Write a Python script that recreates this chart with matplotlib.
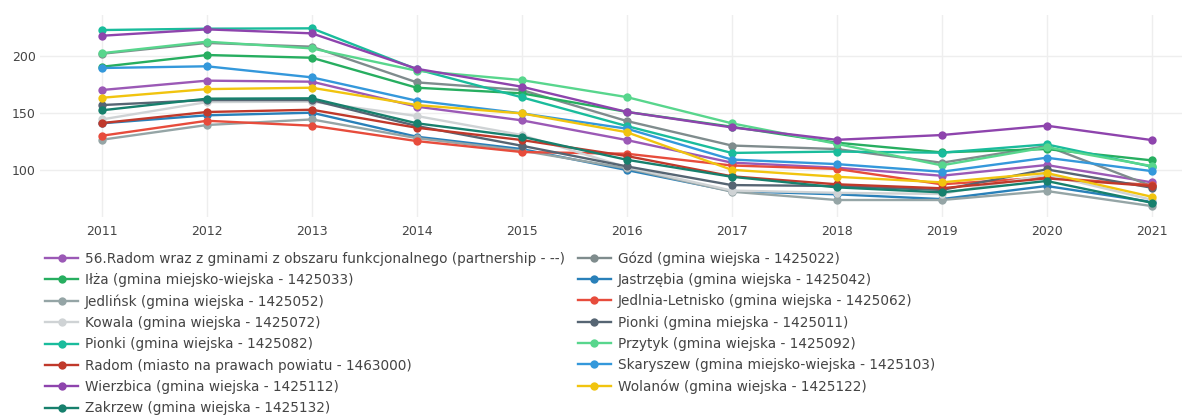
import matplotlib
matplotlib.use("Agg")
import matplotlib.pyplot as plt

years = [2011, 2012, 2013, 2014, 2015, 2016, 2017, 2018, 2019, 2020, 2021]

names = [
    "56.Radom wraz z gminami z obszaru funkcjonalnego (partnership - --)",
    "Gózd (gmina wiejska - 1425022)",
    "Iłża (gmina miejsko-wiejska - 1425033)",
    "Jastrzębia (gmina wiejska - 1425042)",
    "Jedlińsk (gmina wiejska - 1425052)",
    "Jedlnia-Letnisko (gmina wiejska - 1425062)",
    "Kowala (gmina wiejska - 1425072)",
    "Pionki (gmina miejska - 1425011)",
    "Pionki (gmina wiejska - 1425082)",
    "Przytyk (gmina wiejska - 1425092)",
    "Radom (miasto na prawach powiatu - 1463000)",
    "Skaryszew (gmina miejsko-wiejska - 1425103)",
    "Wierzbica (gmina wiejska - 1425112)",
    "Wolanów (gmina wiejska - 1425122)",
    "Zakrzew (gmina wiejska - 1425132)",
]

radom_fa = [170.2, 178.4, 177.5, 155.6, 143.6, 126.3, 106.5, 102.0, 95.0, 104.4, 89.2]
gozd = [202.0, 211.5, 208.2, 176.9, 170.2, 143.0, 121.5, 118.4, 106.4, 121.0, 86.0]
ilza = [190.6, 200.9, 198.5, 172.2, 167.3, 151.0, 138.0, 124.0, 115.5, 118.4, 108.5]
jastrzebia = [141.0, 148.0, 150.3, 129.2, 118.4, 100.0, 81.5, 78.7, 74.5, 86.0, 72.0]
jedlinsk = [126.6, 139.5, 144.4, 128.0, 117.0, 101.5, 81.0, 73.7, 73.7, 81.6, 68.4]
jedlnia = [130.1, 143.2, 138.9, 125.4, 115.8, 114.3, 104.0, 101.0, 87.5, 93.5, 86.8]
kowala = [144.4, 159.6, 160.0, 147.4, 130.7, 102.5, 82.0, 80.0, 79.0, 96.0, 74.0]
pionki_m = [157.0, 161.4, 161.4, 138.6, 121.3, 103.2, 86.8, 86.0, 82.5, 100.6, 84.5]
pionki_w = [222.8, 224.0, 224.3, 188.4, 163.8, 138.6, 115.0, 116.2, 115.2, 122.5, 103.0]
przytyk = [202.5, 212.6, 206.7, 187.1, 178.9, 164.0, 141.0, 123.0, 104.1, 120.0, 103.5]
radom = [141.2, 150.9, 152.9, 137.1, 126.3, 112.3, 94.5, 87.5, 84.0, 92.7, 86.0]
skaryszew = [189.5, 191.0, 181.3, 160.8, 149.7, 136.3, 109.2, 105.2, 98.5, 110.8, 99.1]
wierzbica = [217.8, 223.4, 219.9, 188.8, 173.1, 151.0, 137.4, 126.5, 130.7, 138.9, 126.3]
wolanow = [163.4, 171.0, 172.2, 157.0, 149.7, 133.2, 100.2, 94.1, 89.2, 97.4, 76.6]
zakrzew = [152.4, 162.6, 162.9, 141.0, 129.2, 109.0, 94.1, 84.8, 80.4, 90.4, 71.3]

series = [radom_fa, gozd, ilza, jastrzebia, jedlinsk, jedlnia, kowala, pionki_m,
          pionki_w, przytyk, radom, skaryszew, wierzbica, wolanow, zakrzew]

colors = ["#9b59b6", "#7f8c8d", "#27ae60", "#2980b9", "#95a5a6", "#e74c3c",
          "#cfd3d5", "#566573", "#1abc9c", "#58d68d", "#c0392b", "#3498db",
          "#8e44ad", "#f1c40f", "#17806d"]

text_color = "#444444"

fig = plt.figure(figsize=(11.82, 4.16), dpi=100)
ax = fig.add_axes([40 / 1182, (416 - 217) / 416, 1 - 40 / 1182, 202 / 416])

handles = []
for name, vals, c in zip(names, series, colors):
    h, = ax.plot(years, vals, color=c, lw=1.7, marker="o", ms=6,
                 markeredgewidth=0, label=name)
    handles.append(h)

ax.set_xlim(2010.41, 2021.29)
ax.set_ylim(58.8, 236)
ax.set_xticks(years)
ax.set_yticks([100, 150, 200])
ax.grid(True, color="#eeeeee", lw=1)
ax.set_axisbelow(True)
for s in ax.spines.values():
    s.set_visible(False)
ax.tick_params(length=0, labelsize=9, labelcolor=text_color)
ax.tick_params(axis="x", pad=6)
ax.tick_params(axis="y", pad=3)

# legend: two columns, filled row by row like the trace order
order = list(range(0, 15, 2)) + list(range(1, 15, 2))
leg = fig.legend([handles[i] for i in order], [names[i] for i in order],
                 loc="upper left", bbox_to_anchor=(45 / 1182, (416 - 251) / 416),
                 ncol=2, frameon=False, fontsize=9.8, handlelength=2.43,
                 handletextpad=0.5, columnspacing=0.95, labelspacing=0.54,
                 borderpad=0, borderaxespad=0)
for t in leg.get_texts():
    t.set_color(text_color)

fig.savefig("out.png", dpi=100)
